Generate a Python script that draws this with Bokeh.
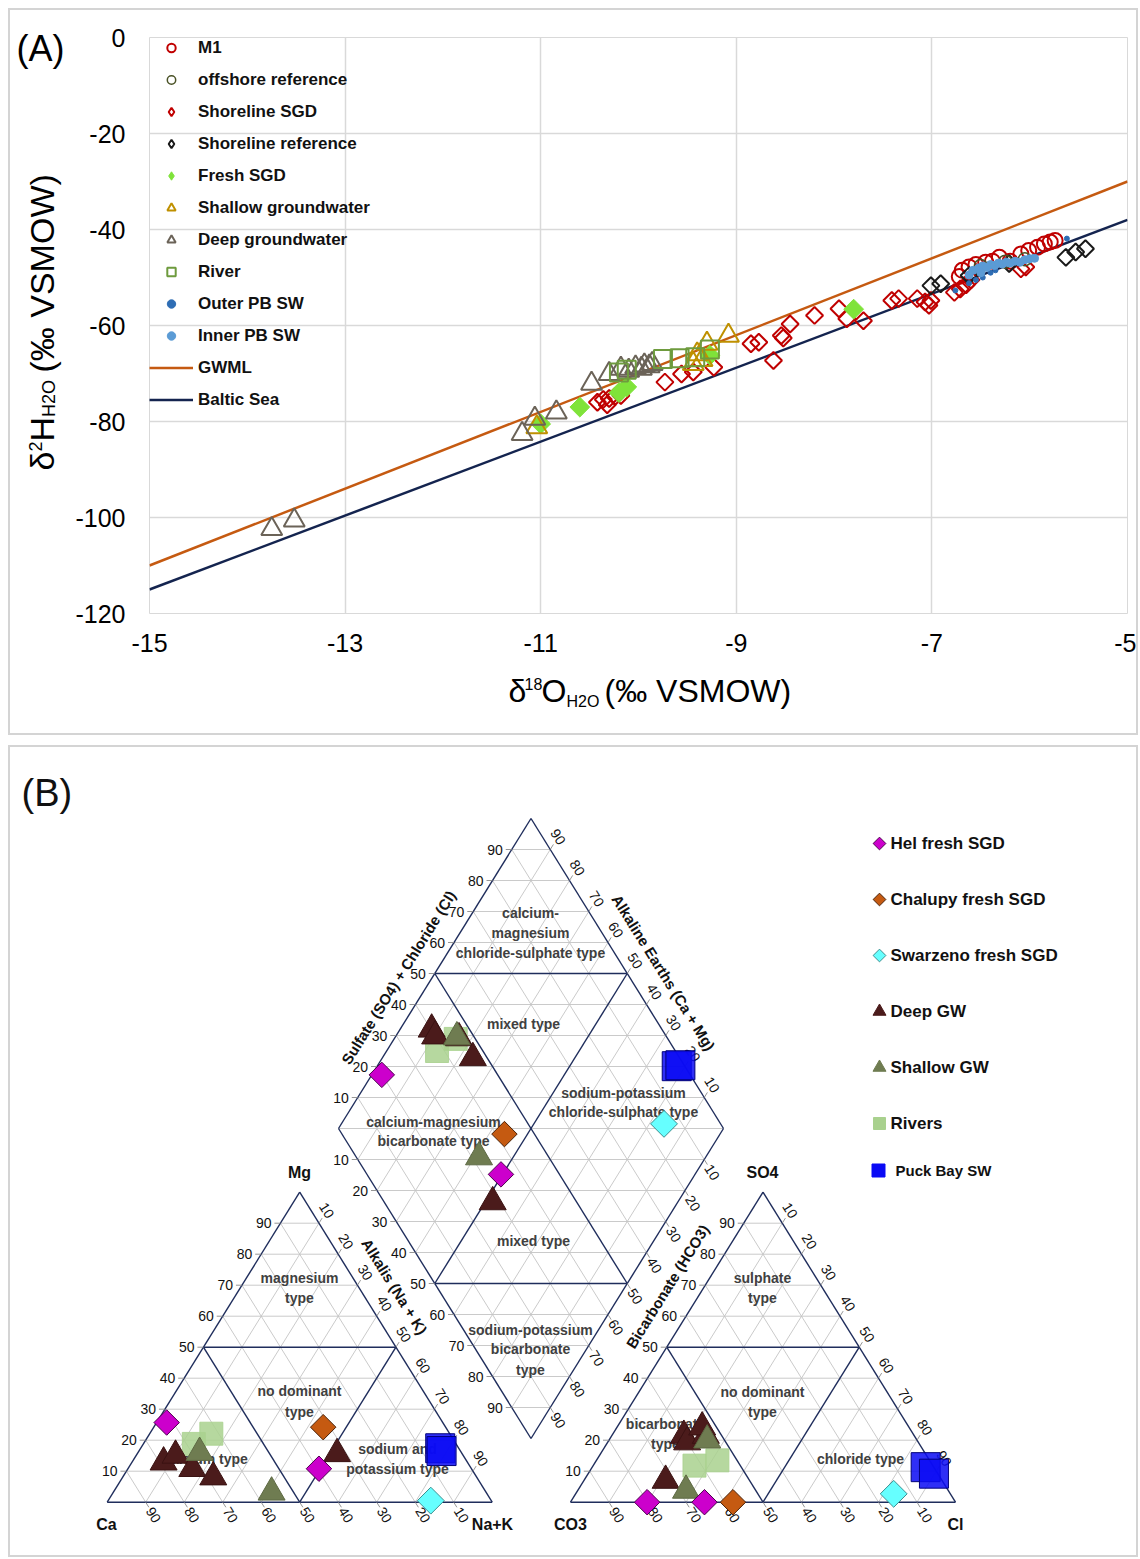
import numpy as np
from bokeh.plotting import figure
from bokeh.models import Range1d, FixedTicker, Legend, LegendItem, Spacer
from bokeh.layouts import column, row
from bokeh.embed import file_html
from bokeh.resources import INLINE
from bokeh.core.properties import value

FONT = "Liberation Sans"

# ===================== Panel A data (d18O, d2H) =====================
m1_x = [-6.72, -6.69, -6.62, -6.55, -6.45, -6.38, -6.31, -6.20, -6.09, -6.01, -5.92, -5.85, -5.79, -5.74]
m1_y = [-49.8, -48.5, -47.8, -47.3, -46.8, -46.6, -45.8, -46.6, -45.1, -44.4, -43.7, -43.0, -42.6, -42.3]

off_x = [-6.50, -6.25, -6.05]
off_y = [-47.6, -46.7, -46.2]

sgd_x = [-10.42, -10.36, -10.30, -10.24, -10.18, -10.32, -9.73, -9.56, -9.44, -9.23, -8.85, -8.77,
         -8.62, -8.54, -8.52, -8.45, -8.20, -7.95, -7.87, -7.70, -7.41, -7.34, -7.07, -7.03, -7.01,
         -6.77, -6.71, -6.65, -6.09, -6.04, -7.15, -6.60]
sgd_y = [-76.0, -75.4, -75.2, -74.8, -74.6, -76.5, -71.8, -70.1, -69.7, -68.7, -63.8, -63.5,
         -67.3, -62.1, -62.6, -59.7, -57.9, -56.5, -58.6, -59.0, -54.8, -54.4, -55.1, -55.8, -54.8,
         -53.1, -52.4, -51.5, -48.2, -47.8, -54.4, -50.5]

sref_x = [-7.01, -6.91, -6.62, -6.21, -5.63, -5.53, -5.43]
sref_y = [-51.7, -51.3, -49.6, -47.1, -45.8, -44.7, -44.0]

fresh_x = [-11.00, -10.60, -10.20, -10.12, -9.27, -7.80]
fresh_y = [-80.5, -77.0, -74.0, -72.8, -66.2, -56.6]

shallow_x = [-11.04, -9.44, -9.40, -9.35, -9.30, -9.08]
shallow_y = [-81.2, -68.0, -66.0, -67.2, -63.8, -62.1]

deep_x = [-13.75, -13.52, -11.19, -11.06, -10.84, -10.48, -10.30, -10.18, -10.10, -10.03, -9.97, -9.94, -9.89, -9.86]
deep_y = [-102.4, -100.6, -82.6, -79.4, -78.1, -72.1, -70.1, -69.0, -69.4, -68.7, -69.0, -68.3, -68.5, -68.0]

river_x = [-10.20, -10.12, -9.75, -9.58, -9.42, -9.27]
river_y = [-69.8, -69.2, -67.0, -66.8, -66.6, -65.0]

outer_x = [-6.76, -6.62, -6.55, -6.48, -6.40, -6.35, -5.62]
outer_y = [-52.7, -51.2, -50.5, -50.0, -49.0, -48.5, -41.9]

inner_x = [-6.58, -6.52, -6.48, -6.44, -6.40, -6.36, -6.32, -6.28, -6.24, -6.20, -6.15, -6.10,
           -6.05, -6.00, -5.95, -6.62, -6.50]
inner_y = [-48.5, -48.0, -47.6, -47.9, -47.3, -47.5, -47.0, -47.2, -46.8, -47.0, -46.6, -46.8,
           -46.3, -46.1, -46.0, -49.5, -49.0]

gwml_x = [-15, -5]
gwml_y = [-110, -30]
baltic_x = [-15, -5]
baltic_y = [-115, -38]

x_ticks = [-15, -13, -11, -9, -7, -5]
y_ticks = [-120, -100, -80, -60, -40, -20, 0]

# ===================== Panel B data (Piper, %) =====================
hel_mg = [25.7, 10.8]; hel_nak = [2.6, 49.6]; hel_so4 = [0.0, 0.0]; hel_cl = [19.9, 34.8]
cha_mg = [24.2]; cha_nak = [44.0]; cha_so4 = [0.0]; cha_cl = [42.2]
swa_mg = [0.5]; swa_nak = [83.8]; swa_so4 = [2.7]; swa_cl = [82.6]
deep_mg = [12.9, 15.1, 10.8, 8.1, 15.6]; deep_nak = [8.2, 10.2, 16.7, 23.5, 51.9]
deep_so4 = [21.5, 19.4, 21.5, 24.2, 7.0]; deep_cl = [18.7, 20.6, 24.4, 22.1, 21.2]
shal_mg = [3.2, 16.0]; shal_nak = [41.1, 16.0]; shal_so4 = [3.8, 20.0]; shal_cl = [28.1, 25.5]
riv_mg = [18.8, 22.1]; riv_nak = [13.1, 16.0]; riv_so4 = [11.8, 13.5]; riv_cl = [26.3, 31.4]
pb_mg = [17.4, 16.5]; pb_nak = [77.8, 78.6]; pb_so4 = [11.3, 9.2]; pb_cl = [86.6, 89.8]

BORDER = {"border": "2px solid #d4d4d4"}


def pixfig(x0, x1, y0, y1):
    """A figure whose frame is its whole canvas, in page-pixel coordinates (y negated)."""
    f = figure(width=int(x1 - x0), height=int(y1 - y0), x_range=Range1d(x0, x1),
               y_range=Range1d(-y1, -y0), output_backend="svg", toolbar_location=None,
               min_border=0, frame_align=False, x_axis_type=None, y_axis_type=None)
    f.outline_line_color = None
    f.background_fill_color = "white"
    f.border_fill_color = "white"
    return f


def txt(f, px, py, t, size, angle=0.0, align="left", style="normal", color="#000000"):
    f.text([px], [-py], text=[t], angle=angle, text_align=align, text_baseline="middle",
           text_font=value(FONT), text_font_size=value(f"{size}px"), text_font_style=style,
           text_color=color)


# ===================== Panel A =====================
# panel A content: page x 10..1136, y 10..733
LEFT_W = 62
pa = figure(width=1126 - LEFT_W, height=658, x_range=Range1d(-15, -5), y_range=Range1d(-120, 0),
            output_backend="svg", toolbar_location=None, frame_align=False,
            min_border_left=148 - 10 - LEFT_W, min_border_right=9, min_border_top=27,
            min_border_bottom=55)
pa.background_fill_color = "white"
pa.border_fill_color = "white"
pa.outline_line_color = "#d9d9d9"
pa.xaxis.ticker = FixedTicker(ticks=x_ticks)
pa.yaxis.ticker = FixedTicker(ticks=y_ticks)
pa.xaxis.major_label_overrides = {t: str(t) for t in x_ticks}
pa.yaxis.major_label_overrides = {t: str(t) for t in y_ticks}
for ax in (pa.xaxis[0], pa.yaxis[0]):
    ax.axis_line_color = None
    ax.major_tick_line_color = None
    ax.minor_tick_line_color = None
    ax.major_tick_out = 0
    ax.major_tick_in = 0
    ax.minor_tick_out = 0
    ax.minor_tick_in = 0
    ax.major_label_text_font = FONT
    ax.major_label_text_font_size = "25px"
    ax.major_label_text_color = "#000000"
pa.xaxis.major_label_standoff = 20
pa.yaxis.major_label_standoff = 24
pa.grid.grid_line_color = "#d9d9d9"
pa.grid.grid_line_width = 1.5

r_gwml = pa.line(gwml_x, gwml_y, line_color="#C55A11", line_width=2.5)
r_balt = pa.line(baltic_x, baltic_y, line_color="#14244F", line_width=2.5)

D = np.pi / 4
pa.scatter(sgd_x, sgd_y, marker="square", angle=D, size=12, fill_color=None,
           line_color="#C00000", line_width=2)
pa.scatter(fresh_x, fresh_y, marker="square", angle=D, size=14, fill_color="#7FE33A",
           line_color="#7FE33A", line_width=1)
r_shal = pa.scatter(shallow_x, shallow_y, marker="triangle", size=21, fill_color=None,
                    line_color="#BF9000", line_width=2)
r_deep = pa.scatter(deep_x, deep_y, marker="triangle", size=21, fill_color=None,
                    line_color="#6B6358", line_width=2)
r_riv = pa.scatter(river_x, river_y, marker="square", size=18, fill_color=None,
                   line_color="#6E9B3E", line_width=2)
r_m1 = pa.scatter(m1_x, m1_y, marker="circle", size=15, fill_color=None,
                  line_color="#C00000", line_width=2)
pa.scatter(sref_x, sref_y, marker="square", angle=D, size=12, fill_color=None,
           line_color="#1a1a1a", line_width=2)
r_off = pa.scatter(off_x, off_y, marker="circle", size=13, fill_color=None,
                   line_color="#4a5226", line_width=1.5)
r_out = pa.scatter(outer_x, outer_y, marker="circle", size=5, fill_color="#2E6DB4",
                   line_color="#2E6DB4")
r_inn = pa.scatter(inner_x, inner_y, marker="circle", size=8, fill_color="#5B9BD5",
                   line_color="#5B9BD5")
# legend keys with a diamond shape (one point far outside the visible ranges)
k_sgd = pa.scatter(x=[-100], y=[-1000], marker="diamond", fill_color=None, line_color="#C00000", line_width=2)
k_sref = pa.scatter(x=[-100], y=[-1000], marker="diamond", fill_color=None, line_color="#1a1a1a", line_width=2)
k_fresh = pa.scatter(x=[-100], y=[-1000], marker="diamond", fill_color="#7FE33A", line_color="#7FE33A")

legend = Legend(items=[
    LegendItem(label="M1", renderers=[r_m1]),
    LegendItem(label="offshore reference", renderers=[r_off]),
    LegendItem(label="Shoreline SGD", renderers=[k_sgd]),
    LegendItem(label="Shoreline reference", renderers=[k_sref]),
    LegendItem(label="Fresh SGD", renderers=[k_fresh]),
    LegendItem(label="Shallow groundwater", renderers=[r_shal]),
    LegendItem(label="Deep groundwater", renderers=[r_deep]),
    LegendItem(label="River", renderers=[r_riv]),
    LegendItem(label="Outer PB SW", renderers=[r_out]),
    LegendItem(label="Inner PB SW", renderers=[r_inn]),
    LegendItem(label="GWML", renderers=[r_gwml]),
    LegendItem(label="Baltic Sea", renderers=[r_balt]),
], location="top_left")
legend.margin = 0
legend.padding = 0
legend.spacing = 11
legend.glyph_width = 44
legend.glyph_height = 21
legend.label_height = 21
legend.label_standoff = 5
legend.label_text_font = FONT
legend.label_text_font_size = "17px"
legend.label_text_font_style = "bold"
legend.label_text_color = "#111111"
legend.background_fill_alpha = 0
legend.border_line_alpha = 0
pa.add_layout(legend)

# left strip: panel letter and rotated y title (positions are glyph centres)
left = pixfig(10, 10 + LEFT_W, 10, 668)
txt(left, 16, 48, "(A)", 36)
A90 = np.pi / 2
G, G2 = 34, 18
ytitle = [("δ", 41, 470, G), ("2", 35, 451.1, G2), ("H", 41, 441.1, G),
          ("H2O", 48, 416.6, G2), ("(‰ VSMOW)", 41, 372, G)]
for t, px, py, s in ytitle:
    txt(left, px, py, t, s, angle=A90)

# bottom strip: x title
bottom = pixfig(10, 1136, 668, 733)
F, F2 = 32, 16
xtitle = [("δ", 508, 690, F), ("18", 524, 683, F2), ("O", 541, 690, F),
          ("H2O", 566, 701, F2), ("(‰ VSMOW)", 604, 690, F)]
for t, px, py, s in xtitle:
    txt(bottom, px, py, t, s)

# ===================== Panel B (Piper) =====================
pb = pixfig(10, 1136, 747, 1555)

W, H = 385.0, 310.0
CAT_O = (106.7, 1501.7)
AN_O = (570.0, 1501.7)
D_L = (338.0, 1128.0)
D_B = (530.5, 1438.0)
D_T = (530.5, 818.0)


def tri(o, top, right):
    top = np.asarray(top, float)
    right = np.asarray(right, float)
    x = o[0] + (right + top / 2.0) / 100.0 * W
    y = o[1] - top / 100.0 * H
    return x, -y


def dia(a, b):
    a = np.asarray(a, float) / 100.0
    b = np.asarray(b, float) / 100.0
    x = D_L[0] + a * (D_B[0] - D_L[0]) + b * (D_T[0] - D_L[0])
    y = D_L[1] + a * (D_B[1] - D_L[1]) + b * (D_T[1] - D_L[1])
    return x, -y


gxs, gys, nxs, nys = [], [], [], []


def seg(navy, p0, p1):
    (nxs if navy else gxs).append([float(p0[0]), float(p1[0])])
    (nys if navy else gys).append([float(p0[1]), float(p1[1])])


for o in (CAT_O, AN_O):
    for k in range(10, 100, 10):
        nv = (k == 50)
        seg(nv, tri(o, k, 0), tri(o, k, 100 - k))
        seg(nv, tri(o, 0, k), tri(o, 100 - k, k))
        seg(nv, tri(o, 0, 100 - k), tri(o, 100 - k, 0))
    seg(True, tri(o, 0, 0), tri(o, 0, 100))
    seg(True, tri(o, 0, 100), tri(o, 100, 0))
    seg(True, tri(o, 100, 0), tri(o, 0, 0))

for k in range(10, 100, 10):
    seg(k == 50, dia(k, 0), dia(k, 100))
    seg(k == 50, dia(0, k), dia(100, k))
for c in range(-90, 100, 10):
    nv = abs(c) == 50
    if c >= 0:
        seg(nv, dia(c, 0), dia(100, 100 - c))
    else:
        seg(nv, dia(0, -c), dia(100 + c, 100))
seg(True, dia(0, 0), dia(100, 0))
seg(True, dia(100, 0), dia(100, 100))
seg(True, dia(100, 100), dia(0, 100))
seg(True, dia(0, 100), dia(0, 0))

pb.multi_line(gxs, gys, line_color="#c4c4c4", line_width=0.9)
pb.multi_line(nxs, nys, line_color="#1f2d5c", line_width=1.4)

# tick labels
DR = (0.527, -0.849)   # down-right in data coords
UR = (0.527, 0.849)    # up-right in data coords
hx, hy, ht = [], [], []
rx, ry, rt = [], [], []
txs, tys = [], []


def hlab(p, k):
    hx.append(float(p[0]) - 9); hy.append(float(p[1])); ht.append(str(k))
    txs.append([float(p[0]) - 6, float(p[0])]); tys.append([float(p[1]), float(p[1])])


def rlab(p, k, d):
    rx.append(float(p[0]) + 15 * d[0]); ry.append(float(p[1]) + 15 * d[1]); rt.append(str(k))
    txs.append([float(p[0]), float(p[0]) + 6 * d[0]]); tys.append([float(p[1]), float(p[1]) + 6 * d[1]])


for o in (CAT_O, AN_O):
    for k in range(10, 100, 10):
        hlab(tri(o, k, 0), k)
        rlab(tri(o, 0, 100 - k), k, DR)
        rlab(tri(o, 100 - k, k), k, UR)
for k in range(10, 100, 10):
    hlab(dia(0, k), k)
    hlab(dia(k, 0), k)
    rlab(dia(k, 100), 100 - k, UR)
    rlab(dia(100, k), 100 - k, DR)

pb.multi_line(txs, tys, line_color="#8a8a8a", line_width=0.9)
pb.text(hx, hy, text=ht, text_align="right", text_baseline="middle", text_font=value(FONT),
        text_font_size=value("14px"), text_color="#111111")
pb.text(rx, ry, text=rt, angle=-np.radians(58), text_align="center", text_baseline="middle",
        text_font=value(FONT), text_font_size=value("14px"), text_color="#111111")

# region labels
reg = [("magnesium", 299, 1277), ("type", 299, 1297), ("no dominant", 299, 1390), ("type", 299, 1411),
       ("calcium type", 205, 1458), ("sodium and", 397, 1448), ("potassium type", 397, 1468),
       ("sulphate", 762, 1277), ("type", 762, 1297), ("no dominant", 762, 1391), ("type", 762, 1411),
       ("bicarbonate", 665, 1423), ("type", 665, 1443), ("chloride type", 860, 1458),
       ("calcium-", 530, 912), ("magnesium", 530, 932), ("chloride-sulphate type", 530, 952),
       ("mixed type", 523, 1023), ("calcium-magnesium", 433, 1121), ("bicarbonate type", 433, 1140),
       ("sodium-potassium", 623, 1092), ("chloride-sulphate type", 623, 1111),
       ("mixed type", 533, 1240), ("sodium-potassium", 530, 1329), ("bicarbonate", 530, 1348),
       ("type", 530, 1369)]
pb.text([r[1] for r in reg], [-r[2] for r in reg], text=[r[0] for r in reg], text_align="center",
        text_baseline="middle", text_font=value(FONT), text_font_size=value("14px"),
        text_font_style="bold", text_color="#404040")

# corner labels
corners = [("Mg", 299, 1172), ("Ca", 106, 1524), ("Na+K", 492, 1524), ("SO4", 762, 1172),
           ("CO3", 570, 1524), ("Cl", 955, 1524)]
pb.text([c[1] for c in corners], [-c[2] for c in corners], text=[c[0] for c in corners],
        text_align="center", text_baseline="middle", text_font=value(FONT),
        text_font_size=value("16px"), text_font_style="bold", text_color="#111111")

# axis titles
titles = [("Sulfate (SO4) + Chloride (Cl)", 398, 977, 58), ("Alkaline Earths (Ca + Mg)", 663, 972, -58),
          ("Alkalis (Na + K)", 394, 1286, -58), ("Bicarbonate (HCO3)", 667, 1286, 58)]
pb.text([t[1] for t in titles], [-t[2] for t in titles], text=[t[0] for t in titles],
        angle=[np.radians(t[3]) for t in titles], text_align="center", text_baseline="middle",
        text_font=value(FONT), text_font_size=value("15px"), text_font_style="bold",
        text_color="#111111")


def piper(mg, nak, so4, cl):
    cx, cy = tri(CAT_O, mg, nak)
    axx, ayy = tri(AN_O, so4, cl)
    dx, dy = dia(nak, np.asarray(so4, float) + np.asarray(cl, float))
    return np.concatenate([cx, axx, dx]), np.concatenate([cy, ayy, dy])


x, y = piper(riv_mg, riv_nak, riv_so4, riv_cl)
pb.scatter(x, y, marker="square", size=23, fill_color="#A9D18E", fill_alpha=0.85,
           line_color="#A9D18E", line_alpha=0.85)
x, y = piper(deep_mg, deep_nak, deep_so4, deep_cl)
pb.scatter(x, y, marker="triangle", size=27, fill_color="#4B1B1B", line_color="#3a1212")
x, y = piper(shal_mg, shal_nak, shal_so4, shal_cl)
pb.scatter(x, y, marker="triangle", size=27, fill_color="#6F7C51", line_color="#5d6943")
x, y = piper(hel_mg, hel_nak, hel_so4, hel_cl)
pb.scatter(x, y, marker="square", angle=np.pi / 4, size=18, fill_color="#CC00CC",
           line_color="#4d004d", line_width=1)
x, y = piper(cha_mg, cha_nak, cha_so4, cha_cl)
pb.scatter(x, y, marker="square", angle=np.pi / 4, size=18, fill_color="#C55A11",
           line_color="#4a2208", line_width=1)
x, y = piper(swa_mg, swa_nak, swa_so4, swa_cl)
pb.scatter(x, y, marker="square", angle=np.pi / 4, size=19, fill_color="#66FFFF",
           line_color="#3b8f8f", line_width=1)
x, y = piper(pb_mg, pb_nak, pb_so4, pb_cl)
pb.scatter(x, y, marker="square", size=29, fill_color="#0A0AF5", fill_alpha=0.85,
           line_color="#00007a", line_width=1)

# legend B
leg_names = ["Hel fresh SGD", "Chalupy fresh SGD", "Swarzeno fresh SGD", "Deep GW", "Shallow GW",
             "Rivers", "Puck Bay SW"]
leg_y = [843, 899, 955, 1011, 1067, 1123, 1170]
pb.scatter([879] * 3, [-v for v in leg_y[:3]], marker="square", angle=np.pi / 4, size=9,
           fill_color=["#CC00CC", "#C55A11", "#66FFFF"], line_color=["#4d004d", "#4a2208", "#3b8f8f"])
pb.scatter([879] * 2, [-v for v in leg_y[3:5]], marker="triangle", size=13,
           fill_color=["#4B1B1B", "#6F7C51"], line_color=["#4B1B1B", "#6F7C51"])
pb.scatter([879], [-leg_y[5]], marker="square", size=12, fill_color="#A9D18E", line_color="#A9D18E")
pb.scatter([878], [-leg_y[6]], marker="square", size=13, fill_color="#0A0AF5", line_color="#0A0AF5")
pb.text([890] * 6, [-v for v in leg_y[:6]], text=leg_names[:6], text_align="left",
        text_baseline="middle", text_font=value(FONT), text_font_size=value("17px"),
        text_font_style="bold", text_color="#111111")
pb.text([895], [-leg_y[6]], text=[leg_names[6]], text_align="left", text_baseline="middle",
        text_font=value(FONT), text_font_size=value("15px"), text_font_style="bold",
        text_color="#111111")

txt(pb, 21, 792, "(B)", 38, color="#111111")

panelA = column(row(left, pa, spacing=0), bottom, spacing=0, styles=BORDER)
panelB = column(pb, styles=BORDER)
page = row(Spacer(width=8),
           column(Spacer(height=8), panelA, Spacer(height=10), panelB, spacing=0),
           spacing=0)
with open("out.html", "w") as f:
    f.write(file_html(page, INLINE, title="Isotopes and Piper diagram"))
